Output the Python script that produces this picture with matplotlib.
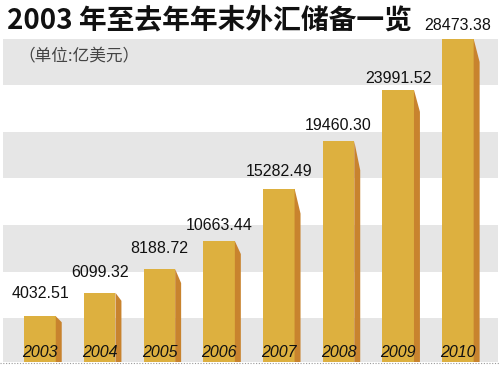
import numpy as np
import matplotlib
matplotlib.use("Agg")
import matplotlib.pyplot as plt
from matplotlib.patches import Rectangle

years = ["2003", "2004", "2005", "2006", "2007", "2008", "2009", "2010"]
reserves = [4032.51, 6099.32, 8188.72, 10663.44, 15282.49, 19460.30, 23991.52, 28473.38]
value_labels = ["4032.51", "6099.32", "8188.72", "10663.44",
                "15282.49", "19460.30", "23991.52", "28473.38"]

title = "2003 年至去年年末外汇储备一览"
unit = "（单位:亿美元）"

# layout (pixels of the 500x368 picture)
W, H = 500, 368
base_px, top_px = 362, 39          # bar bottom / tallest bar top
x0_px, step_px = 40, 59.7          # first bar centre, spacing
bar_w = 0.528
side_w = 0.10
side_drop_px = [6, 8, 14, 13, 25, 29, 22, 23]
label_gap_px = [18, 16, 16, 11, 13, 11, 7, 9]
bands_px = [(39, 85), (132, 178), (225, 272), (318, 362)]

front = "#DDB03F"
side = "#C8832E"
band = "#E6E6E6"

k = (base_px - top_px) / max(reserves)   # px per unit


def yv(px):
    return (base_px - px) / k


fig = plt.figure(figsize=(W / 100, H / 100), dpi=100)
ax = fig.add_axes([0, 0, 1, 1])
ax.set_xlim(-x0_px / step_px, (W - x0_px) / step_px)
ax.set_ylim(yv(H), yv(0))
ax.axis("off")

for a, b in bands_px:
    ax.add_patch(Rectangle((ax.get_xlim()[0] + 3 / step_px, yv(b)),
                           (W - 5) / step_px, yv(a) - yv(b),
                           color=band, lw=0, zorder=0))

ax.axhline(yv(base_px + 0.5), color="#9a9a9a", lw=0.8, ls=(0, (1, 1.5)), zorder=1)

x = np.arange(len(years))
bars = ax.bar(x, reserves, width=bar_w, color=front, lw=0, zorder=2)

for i, (b, v) in enumerate(zip(bars, reserves)):
    r = b.get_x() + b.get_width()
    d = side_drop_px[i] / k
    ax.fill([r, r, r + side_w, r + side_w], [0, v, v - d, 0],
            color=side, lw=0, zorder=2)
    ax.text(x[i], v + label_gap_px[i] / k, value_labels[i], ha="center", va="baseline",
            fontsize=11.5, family="Liberation Sans", color="#111", zorder=3)
    ax.text(x[i], yv(357), years[i], ha="center", va="baseline",
            fontsize=11.5, family="Liberation Sans", style="italic",
            color="#111", zorder=3)

fig.text(7 / W, 1 - 29 / H, title, ha="left", va="baseline", fontsize=20,
         weight="heavy", family=["Noto Sans CJK SC", "DejaVu Sans"], color="#111")
fig.text(18 / W, 1 - 57 / H, unit, ha="left", va="center", fontsize=12,
         family=["Noto Sans CJK SC", "DejaVu Sans"], color="#444")

fig.savefig("out.png", dpi=100)
